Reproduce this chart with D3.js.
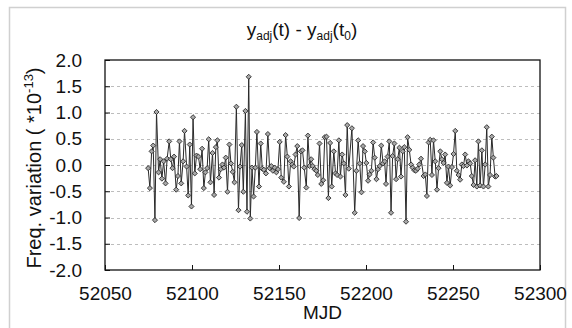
<!DOCTYPE html>
<html>
<head>
<meta charset="utf-8">
<script src="https://cdn.jsdelivr.net/npm/d3@7"></script>
<style>
  html, body { margin: 0; padding: 0; background: #fff; }
  svg { display: block; font-family: "Liberation Sans", Arial, Helvetica, sans-serif; }
</style>
</head>
<body>
<svg id="chart" width="572" height="328"></svg>
<script>
// MJD of each sample
const mjd = [
  52074.8, 52075.8, 52076.8, 52077.7, 52078.7, 52079.6, 52080.8, 52081.7, 52082.7, 52083.7,
  52084.8, 52085.7, 52086.9, 52087.8, 52088.8, 52089.7, 52090.9, 52091.9, 52092.8, 52093.8,
  52094.9, 52095.7, 52096.9, 52097.8, 52098.7, 52099.7, 52100.6, 52101.6, 52102.6, 52103.7,
  52104.7, 52105.8, 52106.8, 52107.7, 52108.7, 52109.6, 52110.6,
  52111.8, 52112.7, 52113.7, 52114.6, 52115.5, 52116.5, 52117.5, 52118.4, 52119.4, 52120.4,
  52121.5, 52122.4, 52123.4, 52124.4, 52125.5, 52126.7, 52127.6, 52128.6, 52129.5, 52130.7,
  52131.6, 52132.6, 52133.5, 52134.5, 52135.4, 52136.4, 52137.3, 52138.5, 52139.5, 52140.4,
  52141.3, 52142.5, 52143.6, 52144.6, 52145.6, 52146.5, 52147.5, 52148.5, 52149.4, 52150.4,
  52151.3,
  52152.8, 52153.8, 52154.8, 52155.7, 52156.7, 52157.6, 52158.5, 52159.5, 52160.5, 52161.6,
  52162.6, 52163.5, 52164.5, 52165.7, 52166.6, 52167.6, 52168.5, 52169.4, 52170.4, 52171.4,
  52172.3, 52173.3, 52174.3, 52175.4, 52176.3, 52177.3, 52178.4, 52179.4, 52180.3, 52181.5,
  52182.5, 52183.4, 52184.4, 52185.3, 52186.3, 52187.2, 52188.2, 52189.2, 52190.1, 52191.9,
  52193.5, 52194.5, 52195.5, 52196.4, 52197.4, 52198.3, 52199.3, 52200.2, 52201.2, 52202.1,
  52203.1, 52204.1, 52205.0, 52206.0, 52206.9, 52207.9, 52208.8, 52209.8, 52210.7, 52211.5,
  52212.4, 52213.4, 52214.4, 52215.3, 52216.3, 52217.3, 52218.2, 52219.2, 52220.1, 52221.1,
  52222.0, 52223.0, 52223.9, 52224.9, 52225.9, 52226.8, 52227.8, 52228.7, 52229.7, 52230.6,
  52231.6,
  52233.1, 52234.1, 52235.0, 52236.0, 52236.9, 52237.9, 52238.8, 52239.8, 52240.8, 52241.7,
  52242.7, 52243.6, 52244.6, 52245.5, 52246.5, 52247.4, 52248.4, 52249.4, 52250.3, 52251.3,
  52252.2, 52253.2, 52254.1, 52255.1, 52256.0, 52257.0, 52258.0, 52258.9, 52259.9, 52260.8,
  52261.8, 52262.7, 52263.7, 52264.6, 52265.6, 52266.6, 52267.5, 52268.5, 52269.4, 52270.3,
  52271.3, 52272.3, 52273.2, 52274.2, 52275.0
];

// y_adj(t) - y_adj(t0), in units of 1e-13
const freqVar = [
  -0.06, -0.44, 0.26, 0.37, -1.05, 1.01, -0.14, 0.11, -0.26, 0.07,
  -0.35, 0.12, 0.45, 0.11, -0.06, 0.16, -0.47, -0.21, 0.45, -0.35,
  0.07, 0.65, -0.03, -0.58, 0.39, -0.79, 0.91, -0.16, 0.18, 0.16,
  -0.08, 0.31, -0.44, -0.14, -0.06, 0.49, -0.33,
  0.23, -0.57, 0.34, 0.47, -0.24, -0.08, 0.01, -0.05, 0.14, -0.51,
  0.39, 0.03, -0.13, -0.33, 1.11, -0.86, -0.03, 0.38, -0.51, 1.03,
  -0.89, 1.68, -1.02, -0.05, -0.6, -0.05, 0.63, -0.41, 0.41, -0.07,
  -0.09, -0.16, 0.59, -0.06, -0.02, -0.11, -0.05, -0.14, -0.08, 0.44,
  -0.24,
  -0.32, 0.57, 0.16, -0.41, 0.07, 0.01, -0.03, 0.2, 0.36, -1.01,
  0.26, 0.28, -0.05, -0.43, 0.56, -0.02, 0.11, -0.02, -0.08, -0.11,
  -0.19, 0.41, -0.36, -0.29, 0.53, 0.54, -0.63, 0.42, -0.41, 0.26,
  -0.16, -0.19, 0.47, -0.22, 0.2, 0.03, -0.57, 0.76, -0.07, 0.7,
  -0.91, -0.11, 0.47, 0.03, -0.52, 0.36, 0.26, 0.04, -0.3, -0.18,
  -0.11, 0.43, 0.14, -0.27, -0.08, -0.02, 0.37, 0.03, 0.07, -0.36,
  0.16, 0.45, -0.91, 0.17, 0.41, -0.27, 0.11, 0.33, -0.22, 0.26,
  0.34, -1.08, 0.53, 0.29, 0.01, -0.05, -0.1, -0.11, -0.07, 0.01,
  0.12,
  -0.21, -0.18, -0.59, 0.43, 0.48, -0.19, 0.47, 0.07, -0.47, -0.06,
  0.26, 0.11, 0.04, 0.2, -0.34, -0.03, -0.39, -0.04, 0.21, 0.65,
  -0.11, -0.19, -0.28, 0.01, -0.02, 0.2, -0.01, 0.07, 0.03, -0.21,
  -0.38, 0.09, -0.41, 0.45, -0.39, 0.28, -0.41, 0.01, 0.72, -0.41,
  -0.19, 0.54, 0.14, -0.22, -0.21
];

const xTicks = [52050, 52100, 52150, 52200, 52250, 52300];
const yTicks = [-2.0, -1.5, -1.0, -0.5, 0.0, 0.5, 1.0, 1.5, 2.0];

const data = mjd.map((m, i) => ({ mjd: m, v: freqVar[i] }));

const plot = { left: 105, right: 540, top: 60, bottom: 270 };

const svg = d3.select('#chart');

// light border round the whole figure
svg.append('rect')
  .attr('x', 9.5).attr('y', 7.5)
  .attr('width', 556).attr('height', 330)
  .attr('fill', 'none')
  .attr('stroke', '#d0d0d0')
  .attr('stroke-width', 1.5);

const x = d3.scaleLinear().domain([52050, 52300]).range([plot.left, plot.right]);
const y = d3.scaleLinear().domain([-2, 2]).range([plot.bottom, plot.top]);

// dashed grid
svg.append('g')
  .selectAll('line')
  .data(yTicks.filter(t => t > -2 && t < 2))
  .enter()
  .append('line')
  .attr('x1', plot.left).attr('x2', plot.right)
  .attr('y1', d => Math.round(y(d)) + 0.5).attr('y2', d => Math.round(y(d)) + 0.5)
  .attr('stroke', '#bdbdbd')
  .attr('stroke-dasharray', '3,3');

// axes (ticks point inward)
const xAxis = svg.append('g')
  .attr('transform', `translate(0,${plot.bottom})`)
  .call(d3.axisBottom(x).tickValues(xTicks).tickFormat(d3.format('d'))
    .tickSizeInner(-5).tickSizeOuter(0).tickPadding(17));

const yAxis = svg.append('g')
  .attr('transform', `translate(${plot.left},0)`)
  .call(d3.axisLeft(y).tickValues(yTicks).tickFormat(d3.format('.1f'))
    .tickSizeInner(-5).tickSizeOuter(0).tickPadding(23));

[xAxis, yAxis].forEach(g => {
  g.select('.domain').remove();
  g.selectAll('line').attr('stroke', '#111');
  g.selectAll('text').attr('font-size', 19).attr('fill', '#111')
    .attr('font-family', '"Liberation Sans", Arial, sans-serif');
});
yAxis.selectAll('text').text(d => d3.format('.1f')(d).replace('−', '-'));

// frame
svg.append('rect')
  .attr('x', plot.left).attr('y', plot.top)
  .attr('width', plot.right - plot.left).attr('height', plot.bottom - plot.top)
  .attr('fill', 'none')
  .attr('stroke', '#111')
  .attr('stroke-width', 1.3);

// series
const line = d3.line().x(d => x(d.mjd)).y(d => y(d.v));

svg.append('path')
  .datum(data)
  .attr('d', line)
  .attr('fill', 'none')
  .attr('stroke', '#2a2a2a')
  .attr('stroke-width', 1);

svg.append('g')
  .selectAll('path')
  .data(data)
  .enter()
  .append('path')
  .attr('d', d3.symbol(d3.symbolSquare, 13)())
  .attr('transform', d => `translate(${x(d.mjd)},${y(d.v)}) rotate(45)`)
  .attr('fill', '#a8a8a8')
  .attr('stroke', '#222')
  .attr('stroke-width', 0.8);

// title
const title = svg.append('text')
  .attr('x', 302).attr('y', 36)
  .attr('text-anchor', 'middle')
  .attr('font-size', 19)
  .attr('fill', '#111');
title.append('tspan').text('y');
title.append('tspan').attr('font-size', 12).attr('dy', 4).text('adj');
title.append('tspan').attr('dy', -4).text('(t) - y');
title.append('tspan').attr('font-size', 12).attr('dy', 4).text('adj');
title.append('tspan').attr('dy', -4).text('(t');
title.append('tspan').attr('font-size', 12).attr('dy', 4).text('0');
title.append('tspan').attr('dy', -4).text(')');

// axis titles
svg.append('text')
  .attr('x', (plot.left + plot.right) / 2).attr('y', 319)
  .attr('text-anchor', 'middle')
  .attr('font-size', 19)
  .attr('fill', '#111')
  .text('MJD');

const yl = svg.append('text')
  .attr('transform', 'translate(41,168) rotate(-90)')
  .attr('text-anchor', 'middle')
  .attr('font-size', 20)
  .attr('fill', '#111');
yl.append('tspan').text('Freq. variation ( *10');
yl.append('tspan').attr('font-size', 13).attr('dy', -8).text('-13');
yl.append('tspan').attr('dy', 8).text(')');
</script>
</body>
</html>
